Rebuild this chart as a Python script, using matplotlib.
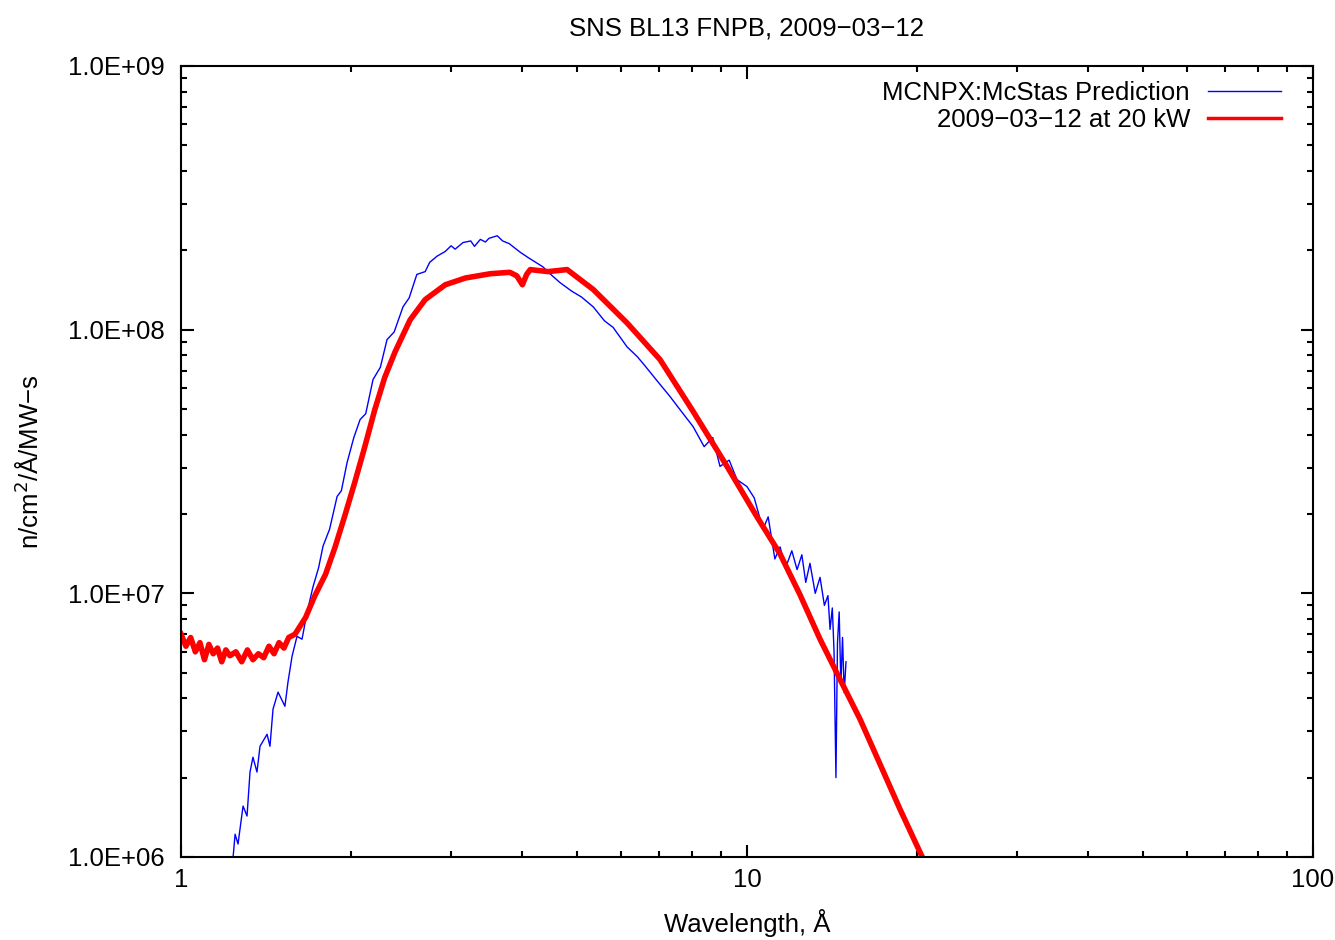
import matplotlib
matplotlib.use("Agg")
import matplotlib.pyplot as plt
from matplotlib.ticker import LogLocator, FuncFormatter, NullFormatter

plt.rcParams['font.family'] = ['Liberation Sans', 'DejaVu Sans']

# MCNPX:McStas prediction (blue)
pred_x = [1.236, 1.246, 1.261, 1.287, 1.308, 1.324, 1.340, 1.362, 1.379, 1.419,
          1.436, 1.454, 1.484, 1.526, 1.545, 1.571, 1.603, 1.636, 1.670, 1.711,
          1.75, 1.782, 1.83, 1.887, 1.92, 1.965, 2.02, 2.072, 2.12, 2.184,
          2.25, 2.312, 2.38, 2.467, 2.53, 2.61, 2.70, 2.75, 2.834, 2.93,
          3.00, 3.05, 3.15, 3.25, 3.30, 3.38, 3.45, 3.50, 3.62, 3.70,
          3.80, 3.97, 4.10, 4.36, 4.50, 4.67, 4.90, 5.10, 5.35, 5.60,
          5.80, 6.14, 6.40, 6.60, 7.02, 7.30, 7.60, 8.03, 8.4, 8.7,
          8.96, 9.3, 9.6, 10.0, 10.3, 10.67, 10.9, 11.2, 11.44, 11.7,
          12.0, 12.26, 12.5, 12.7, 12.92, 13.2, 13.46, 13.7, 13.9, 14.02,
          14.15, 14.25, 14.36, 14.45, 14.55, 14.65, 14.75, 14.85, 14.96]
pred_y = [1.0e6, 1.22e6, 1.12e6, 1.56e6, 1.43e6, 2.10e6, 2.39e6, 2.10e6, 2.63e6, 2.92e6,
          2.63e6, 3.64e6, 4.22e6, 3.73e6, 4.60e6, 5.77e6, 6.87e6, 6.7e6, 8.47e6, 1.06e7,
          1.25e7, 1.51e7, 1.75e7, 2.33e7, 2.45e7, 3.13e7, 3.9e7, 4.56e7, 4.8e7, 6.47e7,
          7.2e7, 9.17e7, 9.8e7, 1.22e8, 1.32e8, 1.62e8, 1.66e8, 1.80e8, 1.90e8, 1.98e8,
          2.08e8, 2.02e8, 2.14e8, 2.17e8, 2.07e8, 2.20e8, 2.15e8, 2.22e8, 2.27e8, 2.17e8,
          2.12e8, 1.97e8, 1.88e8, 1.73e8, 1.62e8, 1.51e8, 1.40e8, 1.33e8, 1.22e8, 1.08e8,
          1.02e8, 8.6e7, 7.9e7, 7.3e7, 6.2e7, 5.6e7, 5.0e7, 4.29e7, 3.6e7, 3.9e7,
          3.03e7, 3.2e7, 2.7e7, 2.54e7, 2.3e7, 1.75e7, 1.95e7, 1.35e7, 1.5e7, 1.25e7,
          1.45e7, 1.23e7, 1.4e7, 1.1e7, 1.3e7, 1.0e7, 1.15e7, 9.0e6, 9.8e6, 7.3e6,
          8.8e6, 6.0e6, 2.0e6, 6.5e6, 8.5e6, 4.5e6, 6.8e6, 4.2e6, 5.5e6]

# measured 2009-03-12 at 20 kW (red)
meas_x = [1.00, 1.02, 1.04, 1.06, 1.08, 1.10, 1.12, 1.14, 1.16, 1.18,
          1.20, 1.22, 1.25, 1.28, 1.31, 1.34, 1.37, 1.40, 1.43, 1.46,
          1.49, 1.52, 1.55, 1.59, 1.66, 1.72, 1.80, 1.87, 1.95, 2.03,
          2.11, 2.20, 2.29, 2.39, 2.54, 2.70, 2.93, 3.18, 3.52, 3.81,
          3.92, 4.01, 4.08, 4.14, 4.45, 4.81, 5.35, 6.14, 7.02, 8.03,
          9.22, 10.4, 11.44, 12.4, 13.46, 14.6, 15.84, 17.18, 18.63, 20.4]
meas_y = [7.0e6, 6.3e6, 6.8e6, 6.0e6, 6.5e6, 5.6e6, 6.4e6, 5.9e6, 6.2e6, 5.5e6,
          6.1e6, 5.8e6, 6.0e6, 5.5e6, 6.1e6, 5.6e6, 5.9e6, 5.7e6, 6.3e6, 5.9e6,
          6.5e6, 6.2e6, 6.8e6, 7.0e6, 8.1e6, 9.7e6, 1.18e7, 1.49e7, 1.99e7, 2.66e7,
          3.57e7, 4.98e7, 6.58e7, 8.26e7, 1.09e8, 1.30e8, 1.48e8, 1.57e8, 1.63e8, 1.65e8,
          1.60e8, 1.48e8, 1.62e8, 1.69e8, 1.66e8, 1.69e8, 1.42e8, 1.06e8, 7.7e7, 4.9e7,
          3.03e7, 1.96e7, 1.41e7, 9.9e6, 6.7e6, 4.72e6, 3.33e6, 2.25e6, 1.52e6, 1.0e6]

fig = plt.figure(figsize=(13.35, 9.4), dpi=100)
ax = fig.add_axes([0.1356, 0.0883, 0.8479, 0.8415])

ax.plot(pred_x, pred_y, color='#0000ff', lw=1.0, label='MCNPX:McStas Prediction')
ax.plot(meas_x, meas_y, color='#ff0000', lw=4.0, label='2009\u221203\u221212 at 20 kW')

ax.set_xscale('log')
ax.set_yscale('log')
ax.set_xlim(1, 100)
ax.set_ylim(1e6, 1e9)

ax.xaxis.set_major_locator(LogLocator(base=10))
ax.yaxis.set_major_locator(LogLocator(base=10))
ax.xaxis.set_minor_locator(LogLocator(base=10, subs=range(2, 10)))
ax.yaxis.set_minor_locator(LogLocator(base=10, subs=range(2, 10)))
ax.xaxis.set_major_formatter(FuncFormatter(lambda v, p: f"{v:g}"))
ax.yaxis.set_major_formatter(FuncFormatter(lambda v, p: f"{v:.1E}"))
ax.xaxis.set_minor_formatter(NullFormatter())
ax.yaxis.set_minor_formatter(NullFormatter())

ax.tick_params(which='both', direction='in', top=True, right=True, width=1.5, labelsize=18.5)
ax.tick_params(which='major', length=9)
ax.tick_params(which='minor', length=4.5)
ax.tick_params(axis='y', pad=12)
ax.tick_params(axis='x', pad=8)
for s in ax.spines.values():
    s.set_linewidth(1.5)

ax.set_title('SNS BL13 FNPB, 2009\u221203\u221212', fontsize=18.5, pad=22)
ax.set_xlabel('Wavelength, \u00c5', fontsize=18.5, labelpad=12)
ax.set_ylabel('n/cm$^2$/\u00c5/MW\u2212s', fontsize=18.5, labelpad=17)

leg = ax.legend(loc='upper right', bbox_to_anchor=(0.981, 0.9944), frameon=False,
                markerfirst=False, fontsize=18.5, handlelength=2.85, handletextpad=0.7,
                borderaxespad=0, labelspacing=0.12)
leg.get_lines()[1].set_linewidth(2.5)

fig.savefig('out.png', dpi=100)
